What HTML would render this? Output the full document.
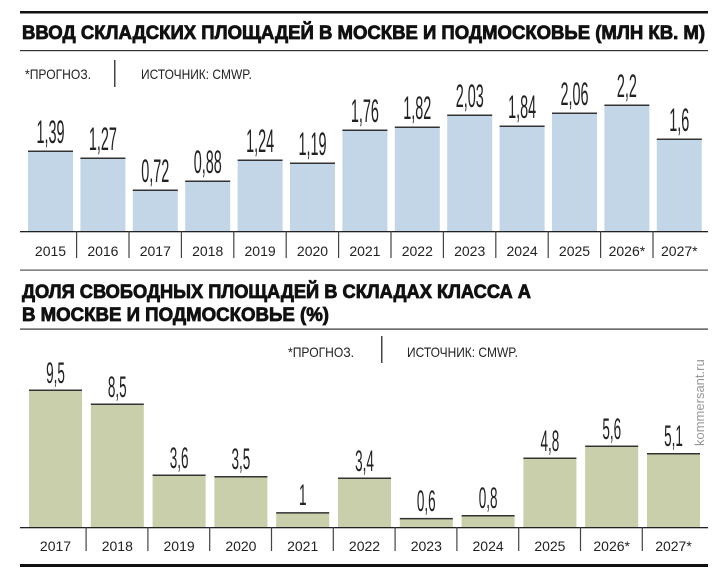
<!DOCTYPE html>
<html><head><meta charset="utf-8"><style>
html,body{margin:0;padding:0;background:#fff}
svg{display:block}
text{font-family:"Liberation Sans","DejaVu Sans",sans-serif}
</style></head><body>
<svg width="719" height="577" viewBox="0 0 719 577" xmlns="http://www.w3.org/2000/svg">
<rect width="719" height="577" fill="#fff"/>
<rect x="20" y="11" width="688" height="2.5" fill="#111"/>
<text x="22" y="39" font-size="19" font-weight="bold" fill="#111" stroke="#111" stroke-width="0.8" textLength="683" lengthAdjust="spacingAndGlyphs">ВВОД СКЛАДСКИХ ПЛОЩАДЕЙ В МОСКВЕ И ПОДМОСКОВЬЕ (МЛН КВ. М)</text>
<rect x="20" y="50" width="688" height="1.2" fill="#333"/>
<text x="25" y="79" font-size="14" fill="#222" textLength="66" lengthAdjust="spacingAndGlyphs">*ПРОГНОЗ.</text>
<rect x="114" y="60" width="1.5" height="27" fill="#444"/>
<text x="141" y="79" font-size="14" fill="#222" textLength="111" lengthAdjust="spacingAndGlyphs">ИСТОЧНИК: CMWP.</text>

<g>
<rect x="28" y="151" width="45" height="80" fill="#c3d6e8"/><rect x="28" y="150.5" width="45" height="1.5" fill="#333"/>
<rect x="80.4" y="158" width="45" height="73" fill="#c3d6e8"/><rect x="80.4" y="157.5" width="45" height="1.5" fill="#333"/>
<rect x="132.8" y="190" width="45" height="41" fill="#c3d6e8"/><rect x="132.8" y="189.5" width="45" height="1.5" fill="#333"/>
<rect x="185.2" y="181" width="45" height="50" fill="#c3d6e8"/><rect x="185.2" y="180.5" width="45" height="1.5" fill="#333"/>
<rect x="237.6" y="160" width="45" height="71" fill="#c3d6e8"/><rect x="237.6" y="159.5" width="45" height="1.5" fill="#333"/>
<rect x="290" y="163" width="45" height="68" fill="#c3d6e8"/><rect x="290" y="162.5" width="45" height="1.5" fill="#333"/>
<rect x="342.4" y="130" width="45" height="101" fill="#c3d6e8"/><rect x="342.4" y="129.5" width="45" height="1.5" fill="#333"/>
<rect x="394.8" y="127" width="45" height="104" fill="#c3d6e8"/><rect x="394.8" y="126.5" width="45" height="1.5" fill="#333"/>
<rect x="447.2" y="115" width="45" height="116" fill="#c3d6e8"/><rect x="447.2" y="114.5" width="45" height="1.5" fill="#333"/>
<rect x="499.6" y="126" width="45" height="105" fill="#c3d6e8"/><rect x="499.6" y="125.5" width="45" height="1.5" fill="#333"/>
<rect x="552" y="113" width="45" height="118" fill="#c3d6e8"/><rect x="552" y="112.5" width="45" height="1.5" fill="#333"/>
<rect x="604.4" y="105" width="45" height="126" fill="#c3d6e8"/><rect x="604.4" y="104.5" width="45" height="1.5" fill="#333"/>
<rect x="656.8" y="139" width="45" height="92" fill="#c3d6e8"/><rect x="656.8" y="138.5" width="45" height="1.5" fill="#333"/>
</g>
<g font-size="32" fill="#222" text-anchor="middle">
<text transform="translate(50.5,143) scale(0.45,1)">1,39</text>
<text transform="translate(102.9,150) scale(0.45,1)">1,27</text>
<text transform="translate(155.3,182) scale(0.45,1)">0,72</text>
<text transform="translate(207.7,173) scale(0.45,1)">0,88</text>
<text transform="translate(260.1,152) scale(0.45,1)">1,24</text>
<text transform="translate(312.5,155) scale(0.45,1)">1,19</text>
<text transform="translate(364.9,122) scale(0.45,1)">1,76</text>
<text transform="translate(417.3,119) scale(0.45,1)">1,82</text>
<text transform="translate(469.7,107) scale(0.45,1)">2,03</text>
<text transform="translate(522.1,118) scale(0.45,1)">1,84</text>
<text transform="translate(574.5,105) scale(0.45,1)">2,06</text>
<text transform="translate(626.9,97) scale(0.45,1)">2,2</text>
<text transform="translate(679.3,131) scale(0.45,1)">1,6</text>
</g>
<rect x="20" y="231" width="688" height="1.3" fill="#222"/>
<g fill="#444">
<rect x="76" y="231" width="1.2" height="27"/><rect x="128.4" y="231" width="1.2" height="27"/><rect x="180.8" y="231" width="1.2" height="27"/><rect x="233.2" y="231" width="1.2" height="27"/><rect x="285.6" y="231" width="1.2" height="27"/><rect x="338" y="231" width="1.2" height="27"/><rect x="390.4" y="231" width="1.2" height="27"/><rect x="442.8" y="231" width="1.2" height="27"/><rect x="495.2" y="231" width="1.2" height="27"/><rect x="547.6" y="231" width="1.2" height="27"/><rect x="600" y="231" width="1.2" height="27"/><rect x="652.4" y="231" width="1.2" height="27"/>
</g>
<g font-size="14" fill="#222" text-anchor="middle">
<text x="50.5" y="256">2015</text><text x="102.9" y="256">2016</text><text x="155.3" y="256">2017</text><text x="207.7" y="256">2018</text><text x="260.1" y="256">2019</text><text x="312.5" y="256">2020</text><text x="364.9" y="256">2021</text><text x="417.3" y="256">2022</text><text x="469.7" y="256">2023</text><text x="522.1" y="256">2024</text><text x="574.5" y="256">2025</text><text x="626.9" y="256">2026*</text><text x="679.3" y="256">2027*</text>
</g>
<rect x="20" y="269.5" width="688" height="1.2" fill="#555"/>

<text x="22" y="298" font-size="19" font-weight="bold" fill="#111" stroke="#111" stroke-width="0.8" textLength="509" lengthAdjust="spacingAndGlyphs">ДОЛЯ СВОБОДНЫХ ПЛОЩАДЕЙ В СКЛАДАХ КЛАССА А</text>
<text x="22" y="321" font-size="19" font-weight="bold" fill="#111" stroke="#111" stroke-width="0.8" textLength="307" lengthAdjust="spacingAndGlyphs">В МОСКВЕ И ПОДМОСКОВЬЕ (%)</text>
<rect x="20" y="328.5" width="688" height="1.2" fill="#333"/>
<text x="288" y="357" font-size="14" fill="#222" textLength="66" lengthAdjust="spacingAndGlyphs">*ПРОГНОЗ.</text>
<rect x="381" y="336" width="1.5" height="27" fill="#444"/>
<text x="407" y="357" font-size="14" fill="#222" textLength="111" lengthAdjust="spacingAndGlyphs">ИСТОЧНИК: CMWP.</text>
<text transform="translate(704,446) rotate(-90)" font-size="13" fill="#999">kommersant.ru</text>

<g>
<rect x="29" y="390" width="53" height="137" fill="#c8cfaa"/><rect x="29" y="389.5" width="53" height="1.5" fill="#333"/>
<rect x="90.8" y="404" width="53" height="123" fill="#c8cfaa"/><rect x="90.8" y="403.5" width="53" height="1.5" fill="#333"/>
<rect x="152.6" y="475" width="53" height="52" fill="#c8cfaa"/><rect x="152.6" y="474.5" width="53" height="1.5" fill="#333"/>
<rect x="214.4" y="476.5" width="53" height="50.5" fill="#c8cfaa"/><rect x="214.4" y="476" width="53" height="1.5" fill="#333"/>
<rect x="276.2" y="512.6" width="53" height="14.4" fill="#c8cfaa"/><rect x="276.2" y="512.1" width="53" height="1.5" fill="#333"/>
<rect x="338" y="478" width="53" height="49" fill="#c8cfaa"/><rect x="338" y="477.5" width="53" height="1.5" fill="#333"/>
<rect x="399.8" y="518.4" width="53" height="8.6" fill="#c8cfaa"/><rect x="399.8" y="517.9" width="53" height="1.5" fill="#333"/>
<rect x="461.6" y="515.5" width="53" height="11.5" fill="#c8cfaa"/><rect x="461.6" y="515" width="53" height="1.5" fill="#333"/>
<rect x="523.4" y="458" width="53" height="69" fill="#c8cfaa"/><rect x="523.4" y="457.5" width="53" height="1.5" fill="#333"/>
<rect x="585.2" y="446" width="53" height="81" fill="#c8cfaa"/><rect x="585.2" y="445.5" width="53" height="1.5" fill="#333"/>
<rect x="647" y="453.5" width="53" height="73.5" fill="#c8cfaa"/><rect x="647" y="453" width="53" height="1.5" fill="#333"/>
</g>
<g font-size="30" fill="#222" text-anchor="middle">
<text transform="translate(55.5,383) scale(0.45,1)">9,5</text>
<text transform="translate(117.3,397) scale(0.45,1)">8,5</text>
<text transform="translate(179.1,468) scale(0.45,1)">3,6</text>
<text transform="translate(240.9,469) scale(0.45,1)">3,5</text>
<text transform="translate(302.7,505) scale(0.45,1)">1</text>
<text transform="translate(364.5,471) scale(0.45,1)">3,4</text>
<text transform="translate(426.3,511) scale(0.45,1)">0,6</text>
<text transform="translate(488.1,508) scale(0.45,1)">0,8</text>
<text transform="translate(549.9,451) scale(0.45,1)">4,8</text>
<text transform="translate(611.7,439) scale(0.45,1)">5,6</text>
<text transform="translate(673.5,446) scale(0.45,1)">5,1</text>
</g>
<rect x="20" y="527" width="688" height="1.3" fill="#222"/>
<g fill="#444">
<rect x="85.5" y="527" width="1.2" height="24"/><rect x="147.3" y="527" width="1.2" height="24"/><rect x="209.1" y="527" width="1.2" height="24"/><rect x="270.9" y="527" width="1.2" height="24"/><rect x="332.7" y="527" width="1.2" height="24"/><rect x="394.5" y="527" width="1.2" height="24"/><rect x="456.3" y="527" width="1.2" height="24"/><rect x="518.1" y="527" width="1.2" height="24"/><rect x="579.9" y="527" width="1.2" height="24"/><rect x="641.7" y="527" width="1.2" height="24"/>
</g>
<g font-size="14" fill="#222" text-anchor="middle">
<text x="55.5" y="551">2017</text><text x="117.3" y="551">2018</text><text x="179.1" y="551">2019</text><text x="240.9" y="551">2020</text><text x="302.7" y="551">2021</text><text x="364.5" y="551">2022</text><text x="426.3" y="551">2023</text><text x="488.1" y="551">2024</text><text x="549.9" y="551">2025</text><text x="611.7" y="551">2026*</text><text x="673.5" y="551">2027*</text>
</g>
<rect x="20" y="564" width="688" height="3" fill="#111"/>
</svg>
</body></html>
